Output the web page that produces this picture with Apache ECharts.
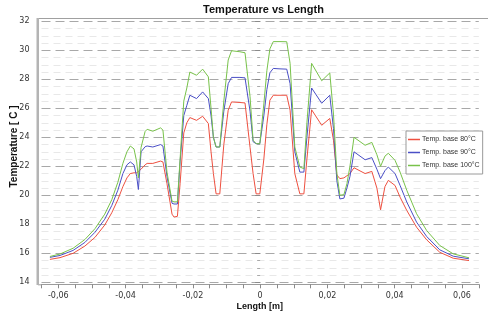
<!DOCTYPE html>
<html>
<head>
<meta charset="utf-8">
<script src="https://cdn.jsdelivr.net/npm/echarts@6/dist/echarts.min.js"></script>
<style>html,body{margin:0;padding:0;background:#fff;}#chart{width:496px;height:325px;}</style>
</head>
<body>
<div id="chart"></div>
<script>
// Length [m]
var lengths = [-0.0625,-0.0595,-0.0556,-0.0521,-0.0491,-0.0462,-0.0441,-0.0423,-0.0408,-0.0396,
  -0.0386,-0.0375,-0.0367,-0.0362,-0.0354,-0.0342,-0.0336,-0.0319,-0.0296,-0.0289,
  -0.0277,-0.0262,-0.0256,-0.0246,-0.0238,-0.0227,-0.0218,-0.0209,-0.0189,-0.0171,
  -0.0154,-0.0146,-0.0139,-0.0131,-0.0120,-0.0108,-0.0095,-0.0085,-0.0060,-0.0045,
  -0.0030,-0.0021,-0.0012,-0.0001,0.0011,0.0020,0.0029,0.0039,0.0059,0.0079,
  0.0089,0.0103,0.0118,0.0130,0.0139,0.0153,0.0183,0.0207,0.0218,0.0228,
  0.0237,0.0249,0.0258,0.0267,0.0279,0.0312,0.0332,0.0347,0.0358,0.0371,
  0.0381,0.0401,0.0416,0.0436,0.0465,0.0495,0.0534,0.0574,0.0621];

var temp80 = [15.58,15.70,16.0,16.5,17.1,17.95,18.8,19.7,20.6,21.2,
  21.5,21.55,21.55,21.6,21.8,22.1,22.2,22.2,22.36,22.3,
  20.8,18.7,18.5,18.55,20.8,24.3,25.0,25.36,25.17,25.45,
  24.95,23.0,21.5,20.1,20.1,23.5,25.87,26.44,26.4,26.37,
  23.3,21.5,20.1,20.1,22.5,24.9,26.56,26.9,26.9,26.9,
  25.87,21.5,20.1,20.1,22.5,25.9,24.83,25.3,23.8,21.4,
  21.15,21.2,21.35,21.5,21.9,21.5,21.65,20.5,19.0,20.6,
  21.03,20.68,19.87,18.95,17.8,16.93,16.07,15.66,15.5];

var temp90 = [15.72,15.85,16.2,16.75,17.45,18.35,19.3,20.35,21.5,22.1,
  22.3,22.1,21.3,20.4,23.0,23.35,23.4,23.33,23.5,23.4,
  21.3,19.45,19.4,19.4,22.3,25.5,26.2,26.9,26.67,27.13,
  26.67,25.5,24.0,23.33,23.33,25.8,27.7,28.13,28.13,28.1,
  25.8,23.7,23.56,23.56,25.5,27.3,28.45,28.75,28.72,28.7,
  27.7,23.0,21.6,21.6,24.0,27.4,26.35,26.9,24.6,21.0,
  19.75,19.8,20.5,21.3,23.0,22.45,22.6,21.8,21.15,21.7,
  21.95,21.5,20.68,19.53,18.15,17.16,16.24,15.8,15.62];

var temp100 = [15.78,15.95,16.35,16.95,17.7,18.7,19.7,20.9,22.2,23.0,
  23.4,23.2,22.3,21.2,23.3,24.4,24.55,24.42,24.65,24.5,
  21.6,19.6,19.55,19.55,22.5,26.5,27.4,28.5,28.28,28.7,
  28.17,26.0,24.0,23.33,23.33,26.5,29.33,29.97,29.9,29.83,
  26.8,23.8,23.56,23.56,26.3,28.6,30.1,30.6,30.6,30.59,
  29.1,23.33,21.95,21.84,25.0,29.1,27.9,28.44,25.6,21.5,
  20.0,20.05,20.8,22.0,24.0,23.45,23.65,22.8,22.0,22.7,
  22.9,22.41,21.6,20.34,18.73,17.57,16.54,15.96,15.69];

var seriesNames = ['Temp. base 80°C', 'Temp. base 90°C', 'Temp. base 100°C'];
var xLabelValues = [-0.06, -0.04, -0.02, 0, 0.02, 0.04, 0.06];
var yLabelValues = [14, 16, 18, 20, 22, 24, 26, 28, 30, 32];

var xTickValues = [];
for (var i = -13; i <= 13; i++) xTickValues.push(i * 0.005);

function pairs(ys) {
  return lengths.map(function (x, k) { return [x, ys[k]]; });
}
function fmtX(v) {
  if (Math.abs(v) < 1e-9) return '0';
  return v.toFixed(2).replace('.', ',');
}

var chart = echarts.init(document.getElementById('chart'), null, {renderer: 'canvas'});
var colors = ['#ee5040', '#4a4fc6', '#78c24a'];

chart.setOption({
  animation: false,
  backgroundColor: '#ffffff',
  grid: {left: 41.5, right: 17.2, top: 21.3, bottom: 42.7, containLabel: false},
  xAxis: {
    type: 'value', min: -0.065, max: 0.065, offset: 2,
    axisLine: {show: true, lineStyle: {color: '#9c9c9c', width: 1}},
    axisTick: {show: true, customValues: xTickValues, length: 4, lineStyle: {color: '#8a8a8a'}},
    axisLabel: {customValues: xLabelValues, formatter: fmtX, margin: 8,
      fontFamily: 'DejaVu Sans', fontSize: 8, color: '#333'},
    splitLine: {show: false}
  },
  yAxis: {
    type: 'value', min: 14, max: 32, interval: 2, offset: 5,
    axisLine: {show: false},
    axisTick: {show: true, length: 5, lineStyle: {color: '#8a8a8a'}},
    minorTick: {show: true, splitNumber: 4, length: 3, lineStyle: {color: '#aaaaaa'}},
    axisLabel: {margin: 7, fontFamily: 'DejaVu Sans', fontSize: 8, color: '#333',
      formatter: function (v) { return yLabelValues.indexOf(v) >= 0 ? String(v) : ''; }},
    splitLine: {show: true, lineStyle: {color: '#a8a8a8', width: 1, type: [9, 5]}},
    minorSplitLine: {show: true, lineStyle: {color: '#e8e8e8', width: 1, type: [7, 5]}}
  },
  legend: {
    orient: 'vertical', left: 406, top: 131,
    padding: [4, 3, 4, 2],
    icon: 'rect',
    itemWidth: 12, itemHeight: 1.5, itemGap: 4,
    backgroundColor: '#ffffff', borderColor: '#9a9a9a', borderWidth: 1,
    textStyle: {fontFamily: 'Liberation Sans', fontSize: 7, lineHeight: 9, color: '#333', padding: [0, 0, 0, -3]},
    data: seriesNames
  },
  series: [
    {name: seriesNames[0], type: 'line', data: pairs(temp80), symbol: 'none',
      lineStyle: {color: colors[0], width: 1}, itemStyle: {color: colors[0]}, z: 3},
    {name: seriesNames[1], type: 'line', data: pairs(temp90), symbol: 'none',
      lineStyle: {color: colors[1], width: 1}, itemStyle: {color: colors[1]}, z: 4},
    {name: seriesNames[2], type: 'line', data: pairs(temp100), symbol: 'none',
      lineStyle: {color: colors[2], width: 1}, itemStyle: {color: colors[2]}, z: 5}
  ],
  graphic: [
    {type: 'line', z: 50, shape: {x1: 38, y1: 18.5, x2: 488, y2: 18.5},
      style: {stroke: '#a0a0a0', lineWidth: 1}},
    {type: 'line', z: 50, shape: {x1: 38, y1: 284.8, x2: 42, y2: 284.8},
      style: {stroke: '#9c9c9c', lineWidth: 1}},
    {type: 'rect', z: 50, shape: {x: 36.5, y: 18, width: 2.5, height: 267},
      style: {fill: '#b4b4b4'}},
    {type: 'text', z: 50, x: 263.5, y: 10,
      style: {text: 'Temperature vs Length', font: 'bold 11px "Liberation Sans"', fill: '#111',
        align: 'center', verticalAlign: 'middle'}},
    {type: 'text', z: 50, x: 259.7, y: 307,
      style: {text: 'Length [m]', font: 'bold 9px "Liberation Sans"', fill: '#111',
        align: 'center', verticalAlign: 'middle'}},
    {type: 'text', z: 50, x: 14, y: 146.5, rotation: Math.PI / 2,
      style: {text: 'Temperature [ C ]', font: 'bold 10px "Liberation Sans"', fill: '#111',
        align: 'center', verticalAlign: 'middle'}}
  ]
});
</script>
</body>
</html>
